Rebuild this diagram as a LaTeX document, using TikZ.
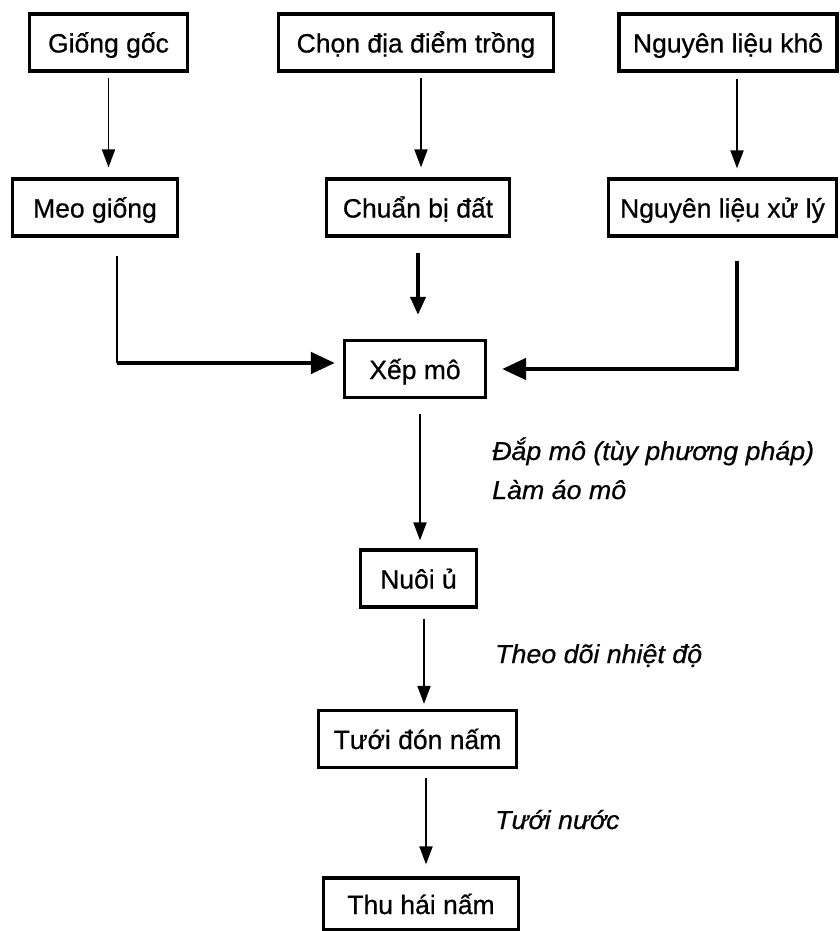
\documentclass[tikz,border=0pt]{standalone}
\usepackage{fontspec}
\setmainfont{Liberation Sans}
\newfontfamily\boxfont{Liberation Sans}[FakeBold=0.6]
\newfontfamily\notefont{Liberation Sans}[FakeBold=0.6, FakeStretch=1.03]
\usetikzlibrary{arrows.meta, positioning, calc}

\begin{document}
\begin{tikzpicture}[
        x=1pt, y=-1pt,
        box/.style={rectangle, draw=black, line width=3.2pt, minimum height=57pt, inner sep=0pt, text height=24pt, text depth=4pt, font=\boxfont\fontsize{26.5}{30}\selectfont},
        arr/.style={-{Triangle[length=18pt, width=13pt]}, line width=1.9pt, draw=black},
        arrbold/.style={-{Triangle[length=18pt, width=15pt]}, line width=4pt, draw=black},
        arrthick/.style={-{Triangle[length=24pt, width=21pt]}, line width=4.5pt, draw=black},
        note/.style={anchor=base west, inner sep=0pt, font=\notefont\itshape\fontsize{26}{30}\selectfont}
    ]
        \useasboundingbox (0,0) rectangle (840,931);
        \node[box, minimum width=158pt] (giong) at (108.5, 42.5) {Giống gốc};
        \node[box, minimum width=275pt] (chon) at (416, 42.5) {Chọn địa điểm trồng};
        \node[box, minimum width=218pt] (kho) at (728, 42.5) {Nguyên liệu khô};
        \node[box, minimum width=165pt] (meo) at (95, 207.5) {Meo giống};
        \node[box, minimum width=183pt] (dat) at (418, 207.5) {Chuẩn bị đất};
        \node[box, minimum width=228pt] (xuly) at (722.5, 207.5) {Nguyên liệu xử lý};
        \node[box, minimum width=141pt] (xep) at (415, 369) {Xếp mô};
        \node[box, minimum width=116pt] (nuoi) at (418.5, 578.5) {Nuôi ủ};
        \node[box, minimum width=198pt] (don) at (417.5, 739) {Tưới đón nấm};
        \node[box, minimum width=195pt, minimum height=52pt] (thu) at (421, 904) {Thu hái nấm};
        \node[note] (dap) at (492, 460) {Đắp mô (tùy phương pháp)};
        \node[note] (lam) at (492, 499) {Làm áo mô};
        \node[note] (theo) at (495, 663) {Theo dõi nhiệt độ};
        \node[note] (tuoi) at (495, 829) {Tưới nước};
        \draw[arr, shorten <=5pt, shorten >=10pt] (giong.south) -- (giong.south |- meo.north);
        \draw[arr, shorten <=5pt, shorten >=10pt] ($(chon.south)+(5,0)$) -- ($(chon.south |- dat.north)+(5,0)$);
        \draw[arr, shorten <=6pt, shorten >=9pt] ($(kho.south)+(9,0)$) -- ($(kho.south |- xuly.north)+(9,0)$);
        \draw[line width=1.9pt] ($(meo.south)+(22,18)$) -- ($(meo.south |- xep.west)+(22,-6)$) coordinate (meoturn);
        \draw[arrthick] (meoturn) -- ($(xep.west)+(-8,-6)$);
        \draw[arrbold, shorten <=15pt, shorten >=24pt] (dat.south) -- (dat.south |- xep.north);
        \draw[arrthick] ($(xuly.south)+(14.5,23)$) |- ($(xep.east)+(15,0)$);
        \draw[arr, shorten <=15pt, shorten >=8pt] ($(xep.south)+(5,0)$) -- ($(xep.south |- nuoi.north)+(5,0)$);
        \draw[arr, shorten <=10pt, shorten >=5pt] ($(nuoi.south)+(5.5,0)$) -- ($(nuoi.south |- don.north)+(5.5,0)$);
        \draw[arr, shorten <=9pt, shorten >=12pt] ($(don.south)+(8.5,0)$) -- ($(don.south |- thu.north)+(8.5,0)$);
    \end{tikzpicture}
\end{document}
